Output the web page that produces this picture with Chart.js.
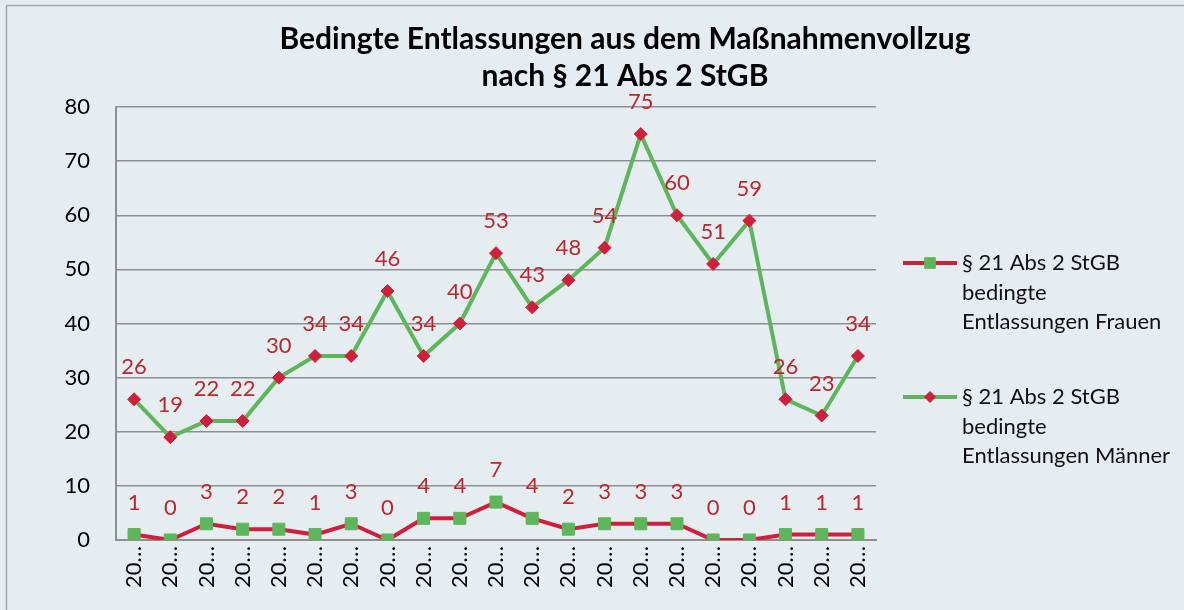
<!DOCTYPE html>
<html lang="de">
<head>
<meta charset="utf-8">
<title>Bedingte Entlassungen aus dem Maßnahmenvollzug</title>
<script src="https://cdn.jsdelivr.net/npm/chart.js@4.4.1/dist/chart.umd.min.js"></script>
<style>
  html, body { margin: 0; padding: 0; background: #e6edf1; }
  #wrap { position: relative; width: 1184px; height: 610px; }
</style>
</head>
<body>
<div id="wrap"><canvas id="chart" width="1184" height="610"></canvas></div>
<script>
// Jahre (Achsenbeschriftung wird auf "20…" gekürzt)
const years = ['2000', '2001', '2002', '2003', '2004', '2005', '2006', '2007', '2008', '2009', '2010',
               '2011', '2012', '2013', '2014', '2015', '2016', '2017', '2018', '2019', '2020'];
const frauen = [1, 0, 3, 2, 2, 1, 3, 0, 4, 4, 7, 4, 2, 3, 3, 3, 0, 0, 1, 1, 1];
const maenner = [26, 19, 22, 22, 30, 34, 34, 46, 34, 40, 53, 43, 48, 54, 75, 60, 51, 59, 26, 23, 34];
const yTicks = [0, 10, 20, 30, 40, 50, 60, 70, 80];
const titleLines = ['Bedingte Entlassungen aus dem Maßnahmenvollzug', 'nach § 21 Abs 2 StGB'];
const legendLines = [
  ['§ 21 Abs 2 StGB', 'bedingte', 'Entlassungen Frauen'],
  ['§ 21 Abs 2 StGB', 'bedingte', 'Entlassungen Männer']
];

const FONT = 'Lato, "Open Sans", sans-serif';
const RED = '#d01f3c';
const GREEN = '#5db65b';
const LABEL_RED = '#b9282f';
const GRID = '#8f8f8f';

// Hintergrund, Rahmen, Titel und Legende
const frame = {
  id: 'frame',
  beforeDraw(chart) {
    const ctx = chart.ctx;
    ctx.save();
    ctx.fillStyle = '#e6edf1';
    ctx.fillRect(0, 0, chart.width, chart.height);
    ctx.strokeStyle = '#a6a6a6';
    ctx.lineWidth = 1.5;
    ctx.strokeRect(6.5, 5.5, chart.width + 10, chart.height + 10);
    ctx.restore();
  },
  afterDraw(chart) {
    const ctx = chart.ctx;
    ctx.save();
    ctx.fillStyle = '#000';
    ctx.textAlign = 'center';
    ctx.textBaseline = 'middle';
    ctx.font = 'bold 30px ' + FONT;
    ctx.fillText(titleLines[0], 625, 39);
    ctx.fillText(titleLines[1], 625, 76);

    const rows = [263, 397];
    chart.data.datasets.forEach((ds, i) => {
      const y = rows[i];
      ctx.strokeStyle = ds.borderColor;
      ctx.lineWidth = 4;
      ctx.beginPath();
      ctx.moveTo(903, y);
      ctx.lineTo(957, y);
      ctx.stroke();
      ctx.fillStyle = ds.pointBackgroundColor;
      ctx.strokeStyle = ds.pointBorderColor;
      ctx.lineWidth = 1;
      Chart.helpers.drawPoint(ctx, {
        pointStyle: ds.pointStyle, radius: ds.pointRadius - 1, borderWidth: 1
      }, 930, y);
      ctx.fillStyle = '#111';
      ctx.textAlign = 'left';
      ctx.font = '22px ' + FONT;
      legendLines[i].forEach((t, k) => ctx.fillText(t, 962, y + k * 29.5));
    });
    ctx.restore();
  }
};

// Wertebeschriftungen über den Punkten
const valueLabels = {
  id: 'valueLabels',
  afterDatasetsDraw(chart) {
    const ctx = chart.ctx;
    ctx.save();
    ctx.fillStyle = LABEL_RED;
    ctx.font = '22px ' + FONT;
    ctx.textAlign = 'center';
    ctx.textBaseline = 'middle';
    chart.data.datasets.forEach((ds, i) => {
      chart.getDatasetMeta(i).data.forEach((pt, j) => {
        ctx.fillText(String(ds.data[j]), pt.x, pt.y - 32);
      });
    });
    ctx.restore();
  }
};

new Chart(document.getElementById('chart'), {
  type: 'line',
  data: {
    labels: years,
    datasets: [{
      label: legendLines[0].join(' '),
      data: frauen,
      borderColor: RED,
      borderWidth: 4,
      pointStyle: 'rect',
      pointRadius: 8.5,
      pointBackgroundColor: GREEN,
      pointBorderColor: GREEN,
      pointBorderWidth: 1,
      tension: 0
    }, {
      label: legendLines[1].join(' '),
      data: maenner,
      borderColor: GREEN,
      borderWidth: 4,
      pointStyle: 'rectRot',
      pointRadius: 6.5,
      pointBackgroundColor: RED,
      pointBorderColor: RED,
      pointBorderWidth: 1,
      tension: 0
    }]
  },
  options: {
    responsive: false,
    animation: false,
    layout: { padding: { top: 107, right: 308, left: 0, bottom: 0 } },
    plugins: {
      legend: { display: false },
      title: { display: false },
      tooltip: { enabled: false }
    },
    scales: {
      x: {
        offset: true,
        grid: { display: false, drawTicks: false },
        border: { display: true, color: GRID, width: 2 },
        ticks: {
          autoSkip: false,
          minRotation: 90,
          maxRotation: 90,
          padding: 6,
          color: '#000',
          font: { family: FONT, size: 22 },
          callback: (v, i) => years[i].slice(0, 2) + '…'
        },
        afterFit: s => { s.height = 70; }
      },
      y: {
        min: 0,
        max: 80,
        afterBuildTicks: s => { s.ticks = yTicks.map(v => ({ value: v })); },
        grid: { color: GRID, lineWidth: 1.5, drawTicks: false },
        border: { display: true, color: GRID, width: 2 },
        ticks: {
          padding: 26,
          color: '#000',
          font: { family: FONT, size: 22 }
        },
        afterFit: s => { s.width = 116; }
      }
    }
  },
  plugins: [frame, valueLabels]
});
</script>
</body>
</html>
